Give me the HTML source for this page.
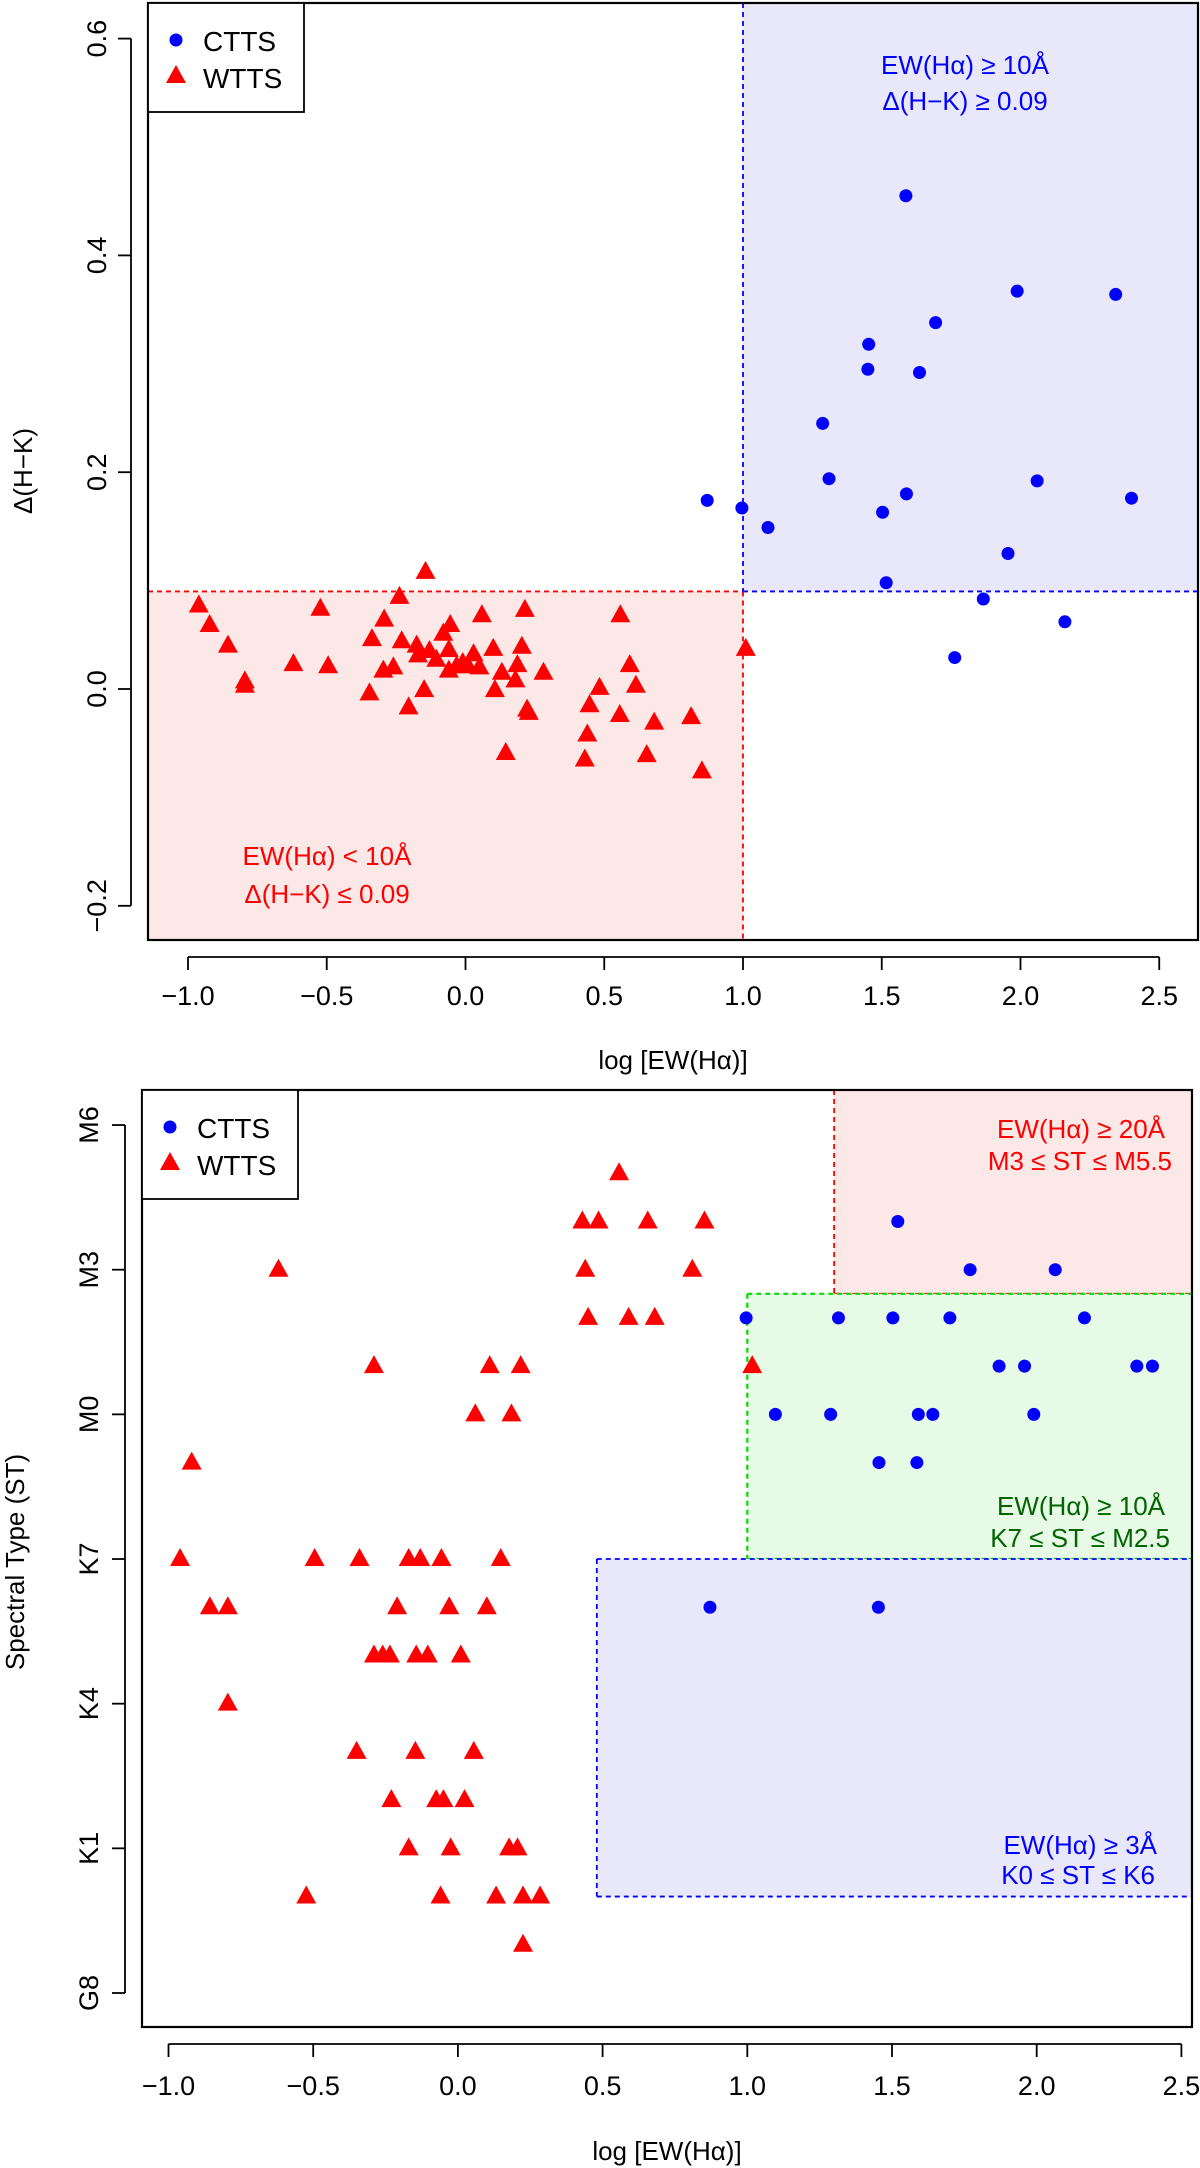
<!DOCTYPE html>
<html><head><meta charset="utf-8"><style>
html,body{margin:0;padding:0;background:#fff;}
svg{display:block;font-family:"Liberation Sans",Arial,sans-serif;}
</style></head><body>
<svg id="chart" width="1200" height="2168" viewBox="0 0 1200 2168" xmlns="http://www.w3.org/2000/svg"></svg>
<script>
// ---- Panel 1 data: x=log EW(Ha), y=Delta(H-K)
const p1CttsX=[1.587,1.988,2.343,1.694,1.453,1.45,1.636,1.287,1.31,2.06,0.871,2.4,0.996,1.589,1.09,1.503,1.955,1.516,1.866,2.16,1.763];
const p1CttsY=[0.455,0.367,0.364,0.338,0.318,0.295,0.292,0.245,0.194,0.192,0.174,0.176,0.167,0.180,0.149,0.163,0.125,0.098,0.083,0.062,0.029];
const p1WttsX=[-0.961,-0.922,-0.856,-0.795,-0.795,-0.62,-0.523,-0.495,-0.346,-0.337,-0.293,-0.296,-0.26,-0.238,-0.23,-0.205,-0.176,-0.171,-0.149,-0.144,-0.13,-0.105,-0.08,-0.055,-0.06,-0.06,-0.032,-0.01,0.009,0.029,0.05,0.059,0.1,0.106,0.131,0.145,0.187,0.18,0.203,0.214,0.222,0.228,0.281,0.43,0.439,0.447,0.483,0.556,0.558,0.592,0.614,0.653,0.68,0.813,0.852,1.01];
const p1WttsY=[0.077,0.059,0.040,0.007,0.003,0.023,0.074,0.021,-0.004,0.046,0.064,0.017,0.020,0.085,0.044,-0.017,0.040,0.031,-0.001,0.108,0.035,0.027,0.051,0.059,0.036,0.017,0.021,0.024,0.021,0.032,0.020,0.068,0.037,-0.001,0.015,-0.059,0.022,0.008,0.039,0.073,-0.019,-0.022,0.015,-0.065,-0.042,-0.015,0.001,-0.024,0.068,0.022,0.003,-0.061,-0.031,-0.026,-0.076,0.037];
const p1XTicks=[-1.0,-0.5,0.0,0.5,1.0,1.5,2.0,2.5];
const p1XTickLabels=["\u22121.0","\u22120.5","0.0","0.5","1.0","1.5","2.0","2.5"];
const p1YTicks=[-0.2,0.0,0.2,0.4,0.6];
const p1YTickLabels=["\u22120.2","0.0","0.2","0.4","0.6"];
// ---- Panel 2 data: x=log EW(Ha), y=spectral subclass index (G8=0 ... M6=18)
const p2CttsX=[1.52,1.77,2.064,0.996,1.315,1.503,1.70,2.165,1.87,1.958,2.346,2.40,1.097,1.288,1.591,1.641,1.99,1.455,1.586,0.871,1.453];
const p2CttsY=[16,15,15,14,14,14,14,14,13,13,13,13,12,12,12,12,12,11,11,8,8];
const p2WttsX=[0.557,0.43,0.486,0.656,0.852,-0.62,0.44,0.81,0.45,0.59,0.68,-0.29,0.11,0.217,1.017,0.06,0.185,-0.92,-0.96,-0.495,-0.34,-0.17,-0.13,-0.057,0.148,-0.857,-0.795,-0.21,-0.03,0.1,-0.29,-0.26,-0.235,-0.144,-0.104,0.01,-0.795,-0.35,-0.147,0.055,-0.23,-0.075,-0.05,0.023,-0.17,-0.025,0.177,0.206,-0.524,-0.06,0.132,0.225,0.284,0.225];
const p2WttsY=[17,16,16,16,16,15,15,15,14,14,14,13,13,13,13,12,12,11,9,9,9,9,9,9,9,8,8,8,8,8,7,7,7,7,7,7,6,5,5,5,4,4,4,4,3,3,3,3,2,2,2,2,2,1];
const p2XTicks=[-1.0,-0.5,0.0,0.5,1.0,1.5,2.0,2.5];
const p2XTickLabels=["\u22121.0","\u22120.5","0.0","0.5","1.0","1.5","2.0","2.5"];
const p2YTicks=[0,3,6,9,12,15,18];
const p2YTickLabels=["G8","K1","K4","K7","M0","M3","M6"];

const NS="http://www.w3.org/2000/svg";
const svg=document.getElementById('chart');
function mk(tag,attrs,parent){const e=document.createElementNS(NS,tag);for(const k in attrs)e.setAttribute(k,attrs[k]);(parent||svg).appendChild(e);return e;}

function panel(cfg){
  const g=mk('g',{});
  
  
  const sx=v=>cfg.x0+(v-cfg.xv0)*cfg.xs;
  const sy=v=>cfg.y0-(v-cfg.yv0)*cfg.ys;
  const L=cfg.box[0],T=cfg.box[1],R=cfg.box[2],B=cfg.box[3];
  cfg.regions.forEach(r=>{
    const x1=r.x1===null?L:sx(r.x1), x2=r.x2===null?R:sx(r.x2);
    const y1=r.y1===null?T:sy(r.y1), y2=r.y2===null?B:sy(r.y2);
    const rect=mk('rect',{x:Math.min(x1,x2),y:Math.min(y1,y2),width:Math.abs(x2-x1),height:Math.abs(y2-y1),fill:r.fill},g);
    
    
    r.lines.forEach(ln=>{
      let a;
      if(ln==='top')a=[x1,Math.min(y1,y2),x2,Math.min(y1,y2)];
      if(ln==='bottom')a=[x1,Math.max(y1,y2),x2,Math.max(y1,y2)];
      if(ln==='left')a=[Math.min(x1,x2),y1,Math.min(x1,x2),y2];
      if(ln==='right')a=[Math.max(x1,x2),y1,Math.max(x1,x2),y2];
      const l=mk('line',{x1:a[0],y1:a[1],x2:a[2],y2:a[3],stroke:r.stroke,'stroke-width':r.sw||1.8,'stroke-dasharray':'5,4'},g);
      
      
    });
  });
  cfg.notes.forEach(n=>{
    const t=mk('text',{x:n.x,y:n.y,fill:n.color,'font-size':26,'text-anchor':n.anchor},g);
    t.textContent=n.text;
    
    
  });
  cfg.wx.forEach((v,i)=>{
    const cx=sx(v),cy=sy(cfg.wy[i]);
    const p=mk('polygon',{points:`${cx-10},${cy+7} ${cx+10},${cy+7} ${cx},${cy-11}`,fill:'#ff0000'},g);
    
    
  });
  cfg.cx.forEach((v,i)=>{
    const c=mk('circle',{cx:sx(v),cy:sy(cfg.cy[i]),r:6.5,fill:'#0000ff'},g);
    
    
  });
  const fr=mk('rect',{x:L,y:T,width:R-L,height:B-T,fill:'none',stroke:'#000','stroke-width':2.2},g);
  
  
  const ax=mk('g',{},g);
  
  
  mk('line',{x1:sx(cfg.xt[0]),y1:B+17,x2:sx(cfg.xt[cfg.xt.length-1]),y2:B+17,stroke:'#000','stroke-width':1.8},ax);
  cfg.xt.forEach((v,i)=>{
    mk('line',{x1:sx(v),y1:B+17,x2:sx(v),y2:B+30,stroke:'#000','stroke-width':1.8},ax);
    const t=mk('text',{x:sx(v),y:cfg.xlabY,'font-size':27,'text-anchor':'middle'},ax);
    t.textContent=cfg.xtl[i];
    
    
  });
  const xt=mk('text',{x:(L+R)/2,y:cfg.xTitleY,'font-size':26,'text-anchor':'middle'},g);
  xt.textContent='log [EW(H\u03B1)]';
  
  
  const ay=mk('g',{},g);
  
  
  mk('line',{x1:L-17,y1:sy(cfg.yt[0]),x2:L-17,y2:sy(cfg.yt[cfg.yt.length-1]),stroke:'#000','stroke-width':1.8},ay);
  cfg.yt.forEach((v,i)=>{
    mk('line',{x1:L-30,y1:sy(v),x2:L-17,y2:sy(v),stroke:'#000','stroke-width':1.8},ay);
    const t=mk('text',{x:0,y:0,'font-size':27,'text-anchor':'middle',transform:`translate(${cfg.ylabX},${sy(v)}) rotate(-90)`},ay);
    t.textContent=cfg.ytl[i];
    
    
  });
  const yt=mk('text',{x:0,y:0,'font-size':26,'text-anchor':'middle',transform:`translate(${cfg.yTitleX},${cfg.yTitleY}) rotate(-90)`},g);
  yt.textContent=cfg.yTitle;
  
  
  const lg=mk('g',{},g);
  
  
  mk('rect',{x:L,y:T,width:156,height:109,fill:'#fff',stroke:'#000','stroke-width':1.8},lg);
  const e1=mk('g',{},lg);
  
  
  mk('circle',{cx:L+28,cy:T+37,r:6.5,fill:'#0000ff'},e1);
  const t1=mk('text',{x:L+55,y:T+48,'font-size':28},e1);t1.textContent='CTTS';
  const e2=mk('g',{},lg);
  
  
  const ly=T+73;
  mk('polygon',{points:`${L+18},${ly+7} ${L+38},${ly+7} ${L+28},${ly-11}`,fill:'#ff0000'},e2);
  const t2=mk('text',{x:L+55,y:T+85,'font-size':28},e2);t2.textContent='WTTS';
}

panel({name:'panel-delta-hk',box:[148,3,1198,940],
  x0:188,xv0:-1,xs:277.5,y0:689,yv0:0,ys:1084,
  cx:p1CttsX,cy:p1CttsY,wx:p1WttsX,wy:p1WttsY,
  xt:p1XTicks,xtl:p1XTickLabels,yt:p1YTicks,ytl:p1YTickLabels,
  xlabY:1005,xTitleY:1069,ylabX:106,yTitleX:32,yTitleY:471,yTitle:'\u0394(H\u2212K)',
  regions:[
    {name:'wtts-region',x1:null,x2:1.0,y1:0.09,y2:null,fill:'#fde8e8',stroke:'#ff0000',lines:['top','right']},
    {name:'ctts-region',x1:1.0,x2:null,y1:null,y2:0.09,fill:'#e8e8fa',stroke:'#0000ff',lines:['left','bottom']}
  ],
  notes:[
    {text:'EW(H\u03B1) \u2265 10\u00C5',x:965,y:74,color:'#0000ff',anchor:'middle',name:'ctts-criteria-ew'},
    {text:'\u0394(H\u2212K) \u2265 0.09',x:965,y:110,color:'#0000ff',anchor:'middle',name:'ctts-criteria-hk'},
    {text:'EW(H\u03B1) < 10\u00C5',x:327,y:865,color:'#ff0000',anchor:'middle',name:'wtts-criteria-ew'},
    {text:'\u0394(H\u2212K) \u2264 0.09',x:327,y:903,color:'#ff0000',anchor:'middle',name:'wtts-criteria-hk'}
  ]});

panel({name:'panel-spectral-type',box:[142,1090,1192,2027],
  x0:168.5,xv0:-1,xs:289.4,y0:1993,yv0:0,ys:48.22,
  cx:p2CttsX,cy:p2CttsY,wx:p2WttsX,wy:p2WttsY,
  xt:p2XTicks,xtl:p2XTickLabels,yt:p2YTicks,ytl:p2YTickLabels,
  xlabY:2095,xTitleY:2160,ylabX:98,yTitleX:24,yTitleY:1562,yTitle:'Spectral Type (ST)',
  regions:[
    {name:'m-type-region',x1:1.3,x2:null,y1:null,y2:14.5,fill:'#fde8e8',stroke:'#ff0000',lines:['left','bottom']},
    {name:'k7-m2-region',x1:1.0,x2:null,y1:14.5,y2:9,fill:'#e6fae6',stroke:'#00dd00',sw:2.2,lines:['left','top','bottom']},
    {name:'k-type-region',x1:0.48,x2:null,y1:9,y2:2,fill:'#e8e8fa',stroke:'#0000ff',lines:['left','top','bottom']}
  ],
  notes:[
    {text:'EW(H\u03B1) \u2265 20\u00C5',x:1165,y:1138,color:'#ff0000',anchor:'end',name:'m-criteria-ew'},
    {text:'M3 \u2264 ST \u2264 M5.5',x:1172,y:1170,color:'#ff0000',anchor:'end',name:'m-criteria-st'},
    {text:'EW(H\u03B1) \u2265 10\u00C5',x:1165,y:1515,color:'#006400',anchor:'end',name:'k7-criteria-ew'},
    {text:'K7 \u2264 ST \u2264 M2.5',x:1170,y:1547,color:'#006400',anchor:'end',name:'k7-criteria-st'},
    {text:'EW(H\u03B1) \u2265 3\u00C5',x:1157,y:1854,color:'#0000ff',anchor:'end',name:'k-criteria-ew'},
    {text:'K0 \u2264 ST \u2264 K6',x:1155,y:1884,color:'#0000ff',anchor:'end',name:'k-criteria-st'}
  ]});
</script>
</body></html>
